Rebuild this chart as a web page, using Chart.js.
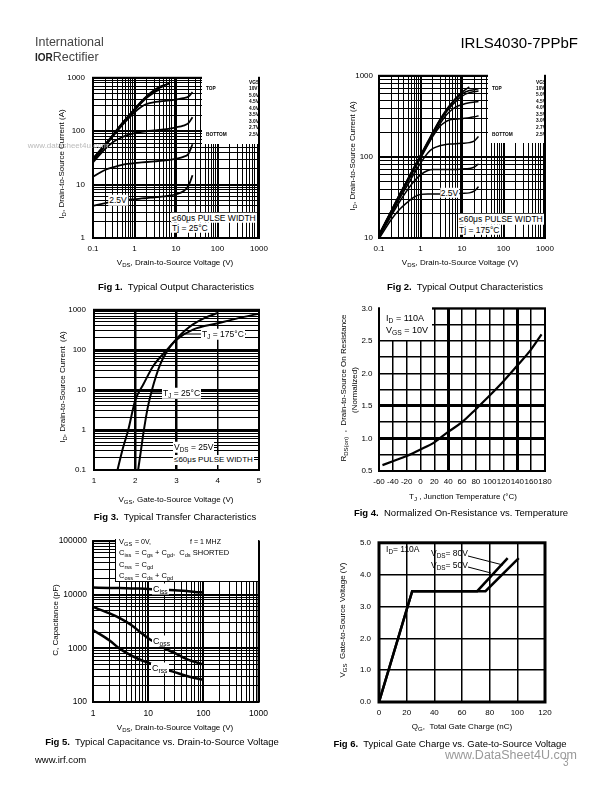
<!DOCTYPE html>
<html>
<head>
<meta charset="utf-8">
<script src="https://cdn.jsdelivr.net/npm/chart.js@4.4.0/dist/chart.umd.min.js"></script>
<style>
body { margin: 0; background: #fff; }
#page { position: relative; width: 612px; height: 792px; overflow: hidden; font-family: "Liberation Sans", Arial, sans-serif; color: #000; }
canvas { position: absolute; z-index: 1; }
.box { position: absolute; background: #fff; z-index: 2; }
svg { position: absolute; left: 0; top: 0; z-index: 3; }
.t { position: absolute; white-space: nowrap; font-size: 8px; line-height: 1; z-index: 4; }
.c { transform: translate(-50%, -50%); }
.l { transform: translate(0, -50%); }
.r { transform: translate(-100%, -50%); }
.v { transform: translate(-50%, -50%) rotate(-90deg); }
.cap { font-size: 9.5px; }
.w { background: #fff; padding: 1px; }
.lg { font-size: 4.8px; font-weight: bold; }
sub { font-size: 75%; vertical-align: -0.35em; line-height: 0; }
</style>
</head>
<body>
<div id="page">

<!-- header -->
<div class="t l" style="left:35px;top:42px;font-size:12.5px;color:#444">International</div>
<div class="t l" style="left:35px;top:57px;font-size:12.5px;color:#444"><b style="font-size:10px;color:#222">IOR</b>Rectifier</div>
<div class="t r" style="left:578px;top:42px;font-size:15px">IRLS4030-7PPbF</div>

<!-- Fig 1 -->
<div class="box" style="left:202px;top:74px;width:56px;height:70px"></div>
<div class="t l lg" style="left:249px;top:82.5px">VGS</div>
<div class="t l lg" style="left:206px;top:89px">TOP</div>
<div class="t l lg" style="left:249px;top:89px">10V</div>
<div class="t l lg" style="left:249px;top:95.5px">5.0V</div>
<div class="t l lg" style="left:249px;top:102px">4.5V</div>
<div class="t l lg" style="left:249px;top:108.5px">4.0V</div>
<div class="t l lg" style="left:249px;top:115px">3.5V</div>
<div class="t l lg" style="left:249px;top:121.5px">3.0V</div>
<div class="t l lg" style="left:249px;top:128px">2.7V</div>
<div class="t l lg" style="left:206px;top:134.5px">BOTTOM</div>
<div class="t l lg" style="left:249px;top:134.5px">2.5V</div>
<div class="t l w" style="left:171px;top:217.5px;font-size:8.5px">≤60μs PULSE WIDTH</div>
<div class="t l w" style="left:171px;top:227.5px;font-size:8.5px">Tj = 25°C</div>
<div class="t c w" style="left:118px;top:200px;font-size:8.5px">2.5V</div>
<div class="t c" style="left:68px;top:146px;font-size:8px;color:#bbb">www.datasheet4u.com</div>
<div class="t v" style="left:62px;top:164px">I<sub>D</sub>, Drain-to-Source Current (A)</div>
<div class="t c" style="left:175px;top:263px">V<sub>DS</sub>, Drain-to-Source Voltage (V)</div>
<div class="t c cap" style="left:176px;top:287px"><b>Fig 1.</b>&nbsp; Typical Output Characteristics</div>

<!-- Fig 2 -->
<div class="box" style="left:488px;top:74px;width:56px;height:69px"></div>
<div class="t l lg" style="left:536px;top:82.5px">VGS</div>
<div class="t l lg" style="left:492px;top:88.5px">TOP</div>
<div class="t l lg" style="left:536px;top:88.5px">10V</div>
<div class="t l lg" style="left:536px;top:95px">5.0V</div>
<div class="t l lg" style="left:536px;top:101.5px">4.5V</div>
<div class="t l lg" style="left:536px;top:108px">4.0V</div>
<div class="t l lg" style="left:536px;top:114.5px">3.5V</div>
<div class="t l lg" style="left:536px;top:121px">3.0V</div>
<div class="t l lg" style="left:536px;top:128px">2.7V</div>
<div class="t l lg" style="left:492px;top:135px">BOTTOM</div>
<div class="t l lg" style="left:536px;top:135px">2.5V</div>
<div class="t l w" style="left:458px;top:219px;font-size:8.5px">≤60μs PULSE WIDTH</div>
<div class="t l w" style="left:458px;top:229.5px;font-size:8.5px">Tj = 175°C</div>
<div class="t c w" style="left:449.5px;top:192.5px;font-size:8.5px">2.5V</div>
<div class="t v" style="left:353px;top:156px">I<sub>D</sub>, Drain-to-Source Current (A)</div>
<div class="t c" style="left:460px;top:263px">V<sub>DS</sub>, Drain-to-Source Voltage (V)</div>
<div class="t c cap" style="left:465px;top:287px"><b>Fig 2.</b>&nbsp; Typical Output Characteristics</div>

<!-- Fig 3 -->
<div class="t l w" style="left:201px;top:334px;font-size:8.5px">T<sub>J</sub> = 175°C</div>
<div class="t l w" style="left:162px;top:393px;font-size:8.5px">T<sub>J</sub> = 25°C</div>
<div class="t l w" style="left:173px;top:447px;font-size:8.5px">V<sub>DS</sub> = 25V</div>
<div class="t l w" style="left:173px;top:459.5px;font-size:8px">≤60μs PULSE WIDTH</div>
<div class="t v" style="left:63px;top:387px">I<sub>D</sub>, Drain-to-Source Current &nbsp;(A)</div>
<div class="t c" style="left:176px;top:500px">V<sub>GS</sub>, Gate-to-Source Voltage (V)</div>
<div class="t c cap" style="left:175px;top:517px"><b>Fig 3.</b>&nbsp; Typical Transfer Characteristics</div>

<!-- Fig 4 -->
<div class="box" style="left:380px;top:306px;width:52px;height:34px"></div>
<div class="t l" style="left:386px;top:318px;font-size:9px">I<sub>D</sub> = 110A</div>
<div class="t l" style="left:386px;top:330px;font-size:9px">V<sub>GS</sub> = 10V</div>
<div class="t v" style="left:344px;top:388px">R<sub>DS(on)</sub> &nbsp;, &nbsp;Drain-to-Source On Resistance</div>
<div class="t v" style="left:355px;top:390px">(Normalized)</div>
<div class="t c" style="left:463px;top:497px">T<sub>J</sub> , Junction Temperature (°C)</div>
<div class="t c cap" style="left:461px;top:513px"><b>Fig 4.</b>&nbsp; Normalized On-Resistance vs. Temperature</div>

<!-- Fig 5 -->
<div class="box" style="left:115px;top:539px;width:142px;height:42px;border-left:1.5px solid #000;border-bottom:1.5px solid #000"></div>
<div class="t l" style="left:119px;top:541.5px;font-size:7.5px">V<sub>GS</sub></div>
<div class="t l" style="left:135px;top:541px;font-size:7px">= 0V,</div>
<div class="t l" style="left:190px;top:541px;font-size:7px">f = 1 MHZ</div>
<div class="t l" style="left:119px;top:553px;font-size:7.5px">C<sub>iss</sub></div>
<div class="t l" style="left:135px;top:553px;font-size:7.5px">= C<sub>gs</sub> + C<sub>gd</sub>, &nbsp;C<sub>ds</sub> SHORTED</div>
<div class="t l" style="left:119px;top:565px;font-size:7.5px">C<sub>rss</sub></div>
<div class="t l" style="left:135px;top:565px;font-size:7.5px">= C<sub>gd</sub></div>
<div class="t l" style="left:119px;top:576px;font-size:7.5px">C<sub>oss</sub></div>
<div class="t l" style="left:135px;top:576px;font-size:7.5px">= C<sub>ds</sub> + C<sub>gd</sub></div>
<div class="t l w" style="left:152px;top:589px;font-size:9px">C<sub>iss</sub></div>
<div class="t l w" style="left:152px;top:641px;font-size:9px">C<sub>oss</sub></div>
<div class="t l w" style="left:151px;top:668px;font-size:9px">C<sub>rss</sub></div>
<div class="t v" style="left:56px;top:620px">C, Capacitance (pF)</div>
<div class="t c" style="left:175px;top:728px">V<sub>DS</sub>, Drain-to-Source Voltage (V)</div>
<div class="t c cap" style="left:162px;top:742px"><b>Fig 5.</b>&nbsp; Typical Capacitance vs. Drain-to-Source Voltage</div>
<div class="t l" style="left:35px;top:760px;font-size:9.5px">www.irf.com</div>

<!-- Fig 6 -->
<div class="t l" style="left:386px;top:549px;font-size:8.5px">I<sub>D</sub>= 110A</div>
<div class="t l" style="left:431px;top:553px;font-size:8.5px">V<sub>DS</sub>= 80V</div>
<div class="t l" style="left:431px;top:565px;font-size:8.5px">V<sub>DS</sub>= 50V</div>
<div class="t v" style="left:343px;top:620px">V<sub>GS</sub> &nbsp;Gate-to-Source Voltage (V)</div>
<div class="t c" style="left:462px;top:727px">Q<sub>G</sub>, &nbsp;Total Gate Charge (nC)</div>
<div class="t c cap" style="left:450px;top:744px"><b>Fig 6.</b>&nbsp; Typical Gate Charge vs. Gate-to-Source Voltage</div>
<div class="t l" style="left:445px;top:755px;font-size:12.5px;color:#999">www.DataSheet4U.com</div>
<div class="t l" style="left:563px;top:763px;font-size:10px;color:#999">3</div>

<svg width="612" height="792">
  <g stroke="#000" stroke-width="1">
    <line x1="182" y1="334" x2="246" y2="334"/>
    <line x1="151" y1="393" x2="199" y2="393"/>
    <line x1="209" y1="447.5" x2="218" y2="447.5"/>
    <line x1="247" y1="459.5" x2="258" y2="459.5"/>
    <line x1="468" y1="556" x2="503" y2="565"/>
    <line x1="468" y1="567" x2="491" y2="573"/>
  </g>
</svg>
</div>

<script>
const FONT = "'Liberation Sans', Arial, Helvetica, sans-serif";

// Fig 1 & 2 - output characteristics, one curve per VGS
const vds = [0.1, 0.2, 0.3, 0.5, 0.7, 1, 1.5, 2, 3, 4, 5, 7, 10, 15, 20, 25];
// Tj = 25C
const id25_10V = [31, 58, 85, 140, 190, 260, 370, 460, 590, 670, 720, 780, null, null, null, null];
const id25_5V0 = [30, 57, 84, 138, 187, 256, 362, 450, 575, 650, 700, null, null, null, null, null];
const id25_4V5 = [29, 56, 83, 136, 184, 252, 355, 440, 560, 630, null, null, null, null, null, null];
const id25_4V0 = [28.5, 55, 82, 134, 180, 246, 345, 425, 530, 600, null, null, null, null, null, null];
const id25_3V5 = [27.5, 54, 80, 128, 170, 225, 290, 325, 350, 360, 367, 378, 392, 415, 445, 540];
const id25_3V0 = [26, 47, 62, 77, 85, 92, 97, 100, 104, 106, 108, 112, 118, 127, 142, 182];
const id25_2V7 = [14, 19, 21, 23.5, 24.5, 25.3, 26, 26.5, 27.2, 27.7, 28.2, 29, 30.5, 33, 38, 57];
const id25_2V5 = [4.0, 4.5, 4.8, 5.0, 5.2, 5.3, 5.5, 5.6, 5.8, 5.9, 6.0, 6.2, 6.6, 7.5, 9.5, 15];
// Tj = 175C
const id175_10V = [11, 22, 33, 54, 75, 105, 155, 205, 295, 370, 430, 530, 630, 730, null, null];
const id175_5V0 = [11, 22, 33, 54, 74, 104, 152, 200, 290, 360, 420, 510, 600, 660, 675, 690];
const id175_4V5 = [11, 21.5, 32.5, 53, 73, 102, 148, 195, 280, 345, 400, 480, 560, 620, 640, 650];
const id175_4V0 = [10.8, 21, 32, 52, 71, 99, 143, 185, 260, 320, 360, 410, 440, 465, 475, 482];
const id175_3V5 = [10.6, 20.5, 31, 50, 69, 96, 140, 180, 240, 270, 285, 292, 298, 305, 312, 322];
const id175_3V0 = [10.4, 20, 29.5, 46, 62, 84, 112, 127, 138, 142, 144, 145, 147, 150, 158, 178];
const id175_2V7 = [10.2, 19, 27, 40, 50, 60, 68, 70, 70, 70, 70, 70, 71, 72, 75, 82];
const id175_2V5 = [9.8, 17, 22, 28, 32, 34.5, 35, 35, 35, 35, 35, 35, 35.5, 36, 38, 43];

// Fig 3 - transfer characteristics
const vgs175 = [1.57, 1.7, 1.83, 2.0, 2.2, 2.44, 2.76, 3.0, 3.4, 4.0, 4.5, 5.0];
const idT175 = [0.1, 0.35, 1.0, 5.5, 14, 40, 98, 180, 320, 460, 620, 800];
const vgs25 = [2.07, 2.14, 2.21, 2.3, 2.4, 2.6, 2.76, 3.0, 3.2, 3.4, 3.7, 4.0];
const idT25 = [0.1, 0.32, 1.0, 3.5, 9.5, 42, 89, 187, 300, 433, 640, 830];

// Fig 4 - normalized on-resistance
const tj = [-55, -40, -20, 0, 20, 25, 40, 60, 80, 100, 120, 140, 160, 175];
const rdsNorm = [0.59, 0.65, 0.73, 0.83, 0.94, 0.98, 1.1, 1.25, 1.45, 1.66, 1.88, 2.12, 2.37, 2.6];

// Fig 5 - capacitances
const vdsCap = [1, 2, 3, 5, 7, 10, 15, 20, 30, 50, 70, 100];
const ciss = [13600, 13400, 13300, 13100, 13000, 12800, 12600, 12400, 12100, 11700, 11300, 11000];
const coss = [5900, 4500, 3700, 2700, 2050, 1550, 1200, 1000, 820, 630, 560, 500];
const crss = [2200, 1400, 1000, 730, 620, 540, 460, 410, 360, 305, 280, 260];

// Fig 6 - gate charge
const qg80 = [0, 24, 71, 93];
const vg80 = [0, 3.48, 3.48, 4.52];
const qg50 = [0, 24, 77, 101];
const vg50 = [0, 3.48, 3.48, 4.52];

const PADT = 8, PADR = 16;

function makeCanvas(L, T, R, B, padL, padB) {
  const c = document.createElement('canvas');
  c.width = R - L + padL + PADR;
  c.height = B - T + PADT + padB;
  c.style.left = (L - padL) + 'px';
  c.style.top = (T - PADT) + 'px';
  document.getElementById('page').appendChild(c);
  return c.getContext('2d');
}

const frame = {
  id: 'frame',
  afterDatasetsDraw(chart, args, opts) {
    const a = chart.chartArea, ctx = chart.ctx;
    ctx.save();
    ctx.strokeStyle = '#000';
    ctx.lineWidth = opts.width;
    ctx.strokeRect(a.left, a.top, a.right - a.left, a.bottom - a.top);
    ctx.restore();
  }
};

function logTicks(min, max) {
  const out = [];
  for (let e = Math.round(Math.log10(min)); e < Math.round(Math.log10(max)); e++) {
    for (let k = 1; k < 10; k++) out.push(Number((k * Math.pow(10, e)).toPrecision(3)));
  }
  out.push(max);
  return out;
}
const isDecade = v => Math.abs(Math.log10(v) - Math.round(Math.log10(v))) < 1e-6;

function logAxis(min, max, pad, size) {
  return {
    type: 'logarithmic', min: min, max: max,
    afterBuildTicks: s => { s.ticks = logTicks(min, max).map(v => ({ value: v })); },
    ticks: { autoSkip: false, maxRotation: 0, minRotation: 0, padding: pad, color: '#000',
      font: { family: FONT, size: size || 8 },
      callback: v => isDecade(v) ? String(v) : '' },
    grid: { drawTicks: false, color: '#000', lineWidth: c => (c.tick && isDecade(c.tick.value)) ? 2 : 1 },
    border: { display: false }
  };
}

function linAxis(min, max, step, pad, labelFn, widthFn) {
  return {
    type: 'linear', min: min, max: max,
    ticks: { stepSize: step, autoSkip: false, maxRotation: 0, minRotation: 0, padding: pad, color: '#000',
      font: { family: FONT, size: 8 }, callback: labelFn },
    grid: { drawTicks: false, color: '#000', lineWidth: c => c.tick ? widthFn(c.tick.value) : 1 },
    border: { display: false }
  };
}

function curve(xs, ys, w) {
  return {
    data: xs.map((x, i) => ({ x: x, y: ys[i] })).filter(p => p.y !== null),
    borderColor: '#000', borderWidth: w, pointRadius: 0, fill: false,
    cubicInterpolationMode: 'monotone'
  };
}

function plot(box, padL, padB, frameW, datasets, xScale, yScale) {
  const ctx = makeCanvas(box[0], box[1], box[2], box[3], padL, padB);
  xScale.afterFit = s => { s.height = padB; };
  yScale.afterFit = s => { s.width = padL; };
  return new Chart(ctx, {
    type: 'line',
    data: { datasets: datasets },
    options: {
      responsive: false, animation: false, events: [],
      layout: { padding: { top: PADT, right: PADR, left: 0, bottom: 0 } },
      plugins: { legend: { display: false }, tooltip: { enabled: false }, frame: { width: frameW } },
      scales: { x: xScale, y: yScale }
    },
    plugins: [frame]
  });
}

// Fig 1
plot([93, 73, 259, 238], 40, 22, 2,
  [id25_10V, id25_5V0, id25_4V5, id25_4V0, id25_3V5, id25_3V0, id25_2V7, id25_2V5].map(s => curve(vds, s, 1.8)),
  logAxis(0.1, 1000, 6), logAxis(1, 1000, 8));

// Fig 2
plot([379, 73, 545, 238], 40, 22, 2,
  [id175_10V, id175_5V0, id175_4V5, id175_4V0, id175_3V5, id175_3V0, id175_2V7, id175_2V5].map(s => curve(vds, s, 1.5)),
  logAxis(0.1, 1000, 6), logAxis(10, 1000, 6));

// Fig 3
plot([94, 305, 259, 470], 40, 22, 2,
  [curve(vgs175, idT175, 2), curve(vgs25, idT25, 2)],
  linAxis(1, 5, 1, 6, v => String(v), v => (v === 2 || v === 3) ? 2.5 : 1.5),
  logAxis(0.1, 1000, 8));

// Fig 4
plot([379, 305, 545, 471], 40, 22, 2,
  [curve(tj, rdsNorm, 2.2)],
  linAxis(-60, 180, 20, 6, v => String(v), v => (v === 40 || v === 140) ? 3 : 1.5),
  linAxis(0.5, 3.0, 0.25, 6.5, v => Math.abs(v * 2 - Math.round(v * 2)) < 1e-6 ? v.toFixed(1) : '',
    v => (Math.abs(v - 1) < 1e-6 || Math.abs(v - 1.5) < 1e-6) ? 3 : 1.5));

// Fig 5
plot([93, 538, 259, 702], 42, 24, 2,
  [curve(vdsCap, ciss, 2.5), curve(vdsCap, coss, 2.5), curve(vdsCap, crss, 2.5)],
  logAxis(1, 1000, 7, 8.5), logAxis(100, 100000, 6, 8.5));

// Fig 6
plot([379, 538, 545, 702], 40, 22, 3,
  [curve(qg80, vg80, 2.5), curve(qg50, vg50, 2.5)].map(d => Object.assign(d, { cubicInterpolationMode: 'default', tension: 0 })),
  linAxis(0, 120, 20, 6, v => String(v), v => 1.5),
  linAxis(0, 5, 1, 8, v => v.toFixed(1), v => 1.5));
</script>
</body>
</html>
